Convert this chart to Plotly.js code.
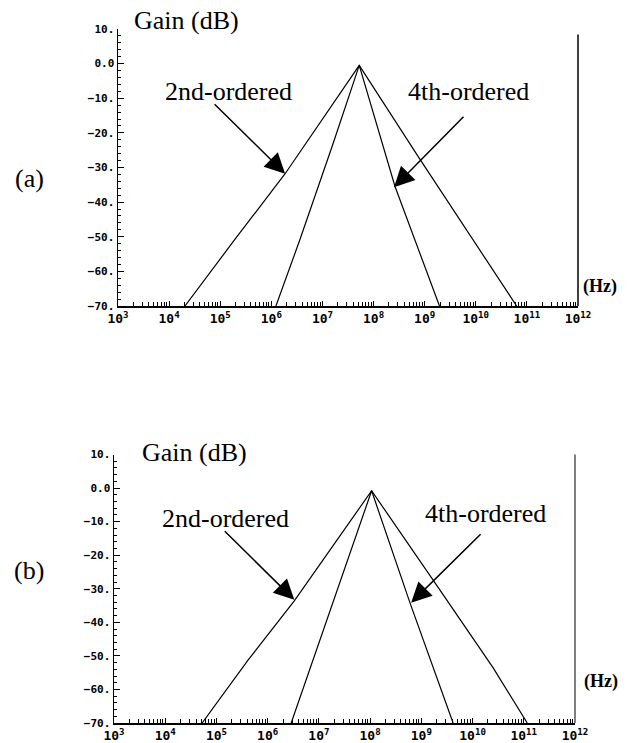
<!DOCTYPE html>
<html><head><meta charset="utf-8">
<script src="https://cdn.plot.ly/plotly-3.0.1.min.js"></script>
<style>html,body{margin:0;padding:0;background:#fff;} #chart{width:627px;height:743px;}</style>
</head><body><div id="chart"></div>
<script>
// Panel (a)
const freqA2 = [2.04e4, 1.95e5, 1.86e6, 1.41e7, 5.25e7, 7.59e8, 1.58e10, 6.31e10];
const gainA2 = [-70, -50.7, -31.8, -12.6, -0.5, -27.0, -56.5, -70];
const freqA4 = [1.23e6, 3.63e6, 1.58e7, 5.25e7, 2.63e8, 1.95e9];
const gainA4 = [-70, -50.8, -23.5, -0.5, -35.5, -70];
// Panel (b)
const freqB2 = [5.25e4, 4.17e5, 3.31e6, 1.07e8, 2.0e9, 2.51e10, 1.17e11];
const gainB2 = [-70, -51.2, -33.6, -0.8, -29.0, -53.5, -70];
const freqB4 = [2.88e6, 7.76e6, 1.07e8, 6.03e8, 1.58e9, 4.17e9];
const gainB4 = [-70, -51.2, -0.8, -34.3, -52.3, -70];

// Tick labels
const yTickVals = [-70, -60, -50, -40, -30, -20, -10, 0, 10];
const yTickText = ["\u221270.", "\u221260.", "\u221250.", "\u221240.", "\u221230.", "\u221220.", "\u221210.", "0.0", "10."];
const xTickVals = [1e3, 1e4, 1e5, 1e6, 1e7, 1e8, 1e9, 1e10, 1e11, 1e12];
const xTickText = ["10<sup>3</sup>", "10<sup>4</sup>", "10<sup>5</sup>", "10<sup>6</sup>", "10<sup>7</sup>",
                   "10<sup>8</sup>", "10<sup>9</sup>", "10<sup>10</sup>", "10<sup>11</sup>", "10<sup>12</sup>"];
const minorMult = [2, 3, 4, 5, 6, 7, 8, 9];

const W = 627, H = 743;
const minorX = [];
xTickVals.slice(0, -1).forEach(d => minorMult.forEach(m => minorX.push(d * m)));

const mono = 'DejaVu Sans Mono';
function xAxis(domain, anchor) {
  return {
    type: 'log', range: [3, 12], domain: domain, anchor: anchor,
    showline: true, linecolor: '#000', linewidth: 1.5, mirror: false,
    ticks: 'inside', ticklen: 5, tickwidth: 1, tickcolor: '#000',
    tickmode: 'array', tickvals: xTickVals, ticktext: xTickText,
    tickfont: {family: mono, size: 13, color: '#000', weight: 'bold'},
    showgrid: false, zeroline: false, fixedrange: true,
    minor: {ticks: 'inside', ticklen: 4, tickwidth: 1, tickcolor: '#000',
            tickmode: 'array', tickvals: minorX, showgrid: false}
  };
}
function yAxis(domain, anchor) {
  return {
    range: [-70, 10], domain: domain, anchor: anchor,
    showline: true, linecolor: '#000', linewidth: 1.5,
    ticks: 'inside', ticklen: 6, tickwidth: 1, tickcolor: '#000',
    tickmode: 'array', tickvals: yTickVals, ticktext: yTickText,
    tickfont: {family: mono, size: 11, color: '#000', weight: 'bold'},
    showgrid: false, zeroline: false, fixedrange: true,
    minor: {ticks: 'inside', ticklen: 3, tickwidth: 1, tickcolor: '#000', dtick: 2, showgrid: false}
  };
}

const lineStyle = {color: '#000', width: 1.2};
const traces = [
  {x: freqA2, y: gainA2, xaxis: 'x', yaxis: 'y', mode: 'lines', line: lineStyle, name: '2nd-ordered (a)'},
  {x: freqA4, y: gainA4, xaxis: 'x', yaxis: 'y', mode: 'lines', line: lineStyle, name: '4th-ordered (a)'},
  {x: freqB2, y: gainB2, xaxis: 'x2', yaxis: 'y2', mode: 'lines', line: lineStyle, name: '2nd-ordered (b)'},
  {x: freqB4, y: gainB4, xaxis: 'x2', yaxis: 'y2', mode: 'lines', line: lineStyle, name: '4th-ordered (b)'}
];

const px = v => v / W, py = v => 1 - v / H;
const serif = 'Liberation Serif';
function txt(text, x, y, size, bold) {
  return {text: bold ? '<b>' + text + '</b>' : text, xref: 'paper', yref: 'paper', x: px(x), y: py(y),
          xanchor: 'center', yanchor: 'middle', showarrow: false,
          font: {family: serif, size: size, color: '#000'}};
}
function arrow(xr, yr, xlog, y, ax, ay) {
  return {text: '', xref: xr, yref: yr, x: xlog, y: y, ax: ax, ay: ay, showarrow: true,
          arrowhead: 2, arrowsize: 2.7, arrowwidth: 1.5, arrowcolor: '#000', standoff: 0};
}

const layout = {
  width: W, height: H, margin: {l: 0, r: 0, t: 0, b: 0},
  paper_bgcolor: '#fff', plot_bgcolor: '#fff', showlegend: false,
  xaxis: xAxis([px(118), px(578)], 'y'),
  yaxis: yAxis([py(306), py(29)], 'x'),
  xaxis2: xAxis([px(114), px(575)], 'y2'),
  yaxis2: yAxis([py(723), py(454.5)], 'x2'),
  shapes: [
    {type: 'line', xref: 'x domain', yref: 'y domain', x0: 1, x1: 1, y0: 0, y1: 0.98, line: {color: '#000', width: 1.5}},
    {type: 'line', xref: 'x2 domain', yref: 'y2 domain', x0: 1, x1: 1, y0: 0, y1: 1, line: {color: '#555', width: 1.5}}
  ],
  annotations: [
    txt('Gain (dB)', 186, 20, 26),
    txt('2nd-ordered', 228, 92, 26),
    txt('4th-ordered', 468, 92, 26),
    txt('(a)', 29, 179, 26),
    txt('(Hz)', 600, 287, 18, true),
    txt('Gain (dB)', 194, 452, 26),
    txt('2nd-ordered', 226, 518, 26),
    txt('4th-ordered', 485, 513, 26),
    txt('(b)', 29, 570, 26),
    txt('(Hz)', 601, 681, 18, true),
    arrow('x', 'y', 6.27, -31.8, -72, -71),
    arrow('x', 'y', 8.40, -35.7, 71, -72),
    arrow('x2', 'y2', 6.52, -33.3, -71, -70),
    arrow('x2', 'y2', 8.80, -34.2, 71, -70)
  ]
};

Plotly.newPlot('chart', traces, layout, {displayModeBar: false, staticPlot: true});
</script>
</body></html>
